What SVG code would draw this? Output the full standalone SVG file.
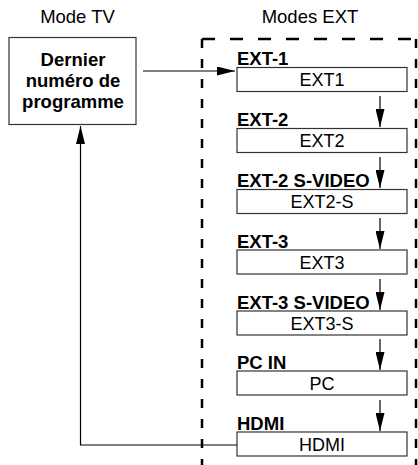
<svg xmlns="http://www.w3.org/2000/svg" width="418" height="465" viewBox="0 0 418 465">
<style>
text{font-family:"Liberation Sans",Arial,sans-serif;fill:#000}
.hdr{font-size:18.5px;text-anchor:middle}
.bold{font-size:18.5px;font-weight:bold}
.mid{text-anchor:middle}
.box{fill:#fff;stroke:#333;stroke-width:1.2}
.conn{stroke:#000;stroke-width:1.2;fill:none}
.dash{stroke:#000;stroke-width:2.5;fill:none}
.val{font-size:18px;text-anchor:middle}
</style>
<defs>
<marker id="ah" viewBox="0 0 18 9" refX="18" refY="4.5" markerWidth="18" markerHeight="9" markerUnits="userSpaceOnUse" orient="auto">
<path d="M0,0 L18,4.5 L0,9 Z" fill="#000"/>
</marker>
<marker id="ahs" viewBox="0 0 18 9" refX="18" refY="4.5" markerWidth="19" markerHeight="9" markerUnits="userSpaceOnUse" orient="auto">
<path d="M0,0 L18,4.5 L0,9 Z" fill="#000"/>
</marker>
</defs>
<text class="hdr" x="77.5" y="23">Mode TV</text>
<text class="hdr" x="310" y="23">Modes EXT</text>
<g id="frame">
<line class="dash" x1="202" y1="39" x2="416" y2="39" stroke-dasharray="13 15"/>
<line class="dash" x1="202" y1="39" x2="202" y2="465" stroke-dasharray="9 11"/>
<line class="dash" x1="416" y1="39" x2="416" y2="465" stroke-dasharray="9 11"/>
</g>
<g id="tv">
<rect class="box" x="9" y="37.5" width="127" height="87"/>
<text class="bold mid" x="73" y="66">Dernier</text>
<text class="bold mid" x="73" y="87">numéro de</text>
<text class="bold mid" x="73" y="108">programme</text>
</g>
<g id="ext1"><text class="bold" x="237" y="65">EXT-1</text><rect class="box" x="237" y="67.5" width="170" height="24"/><text class="val" x="322" y="86">EXT1</text></g>
<g id="ext2"><text class="bold" x="237" y="126">EXT-2</text><rect class="box" x="237" y="128.5" width="170" height="24"/><text class="val" x="322" y="147">EXT2</text></g>
<g id="ext2s"><text class="bold" x="237" y="187">EXT-2 S-VIDEO</text><rect class="box" x="237" y="189.5" width="170" height="24"/><text class="val" x="322" y="208">EXT2-S</text></g>
<g id="ext3"><text class="bold" x="237" y="248">EXT-3</text><rect class="box" x="237" y="250" width="170" height="24"/><text class="val" x="322" y="268.5">EXT3</text></g>
<g id="ext3s"><text class="bold" x="237" y="309">EXT-3 S-VIDEO</text><rect class="box" x="237" y="311" width="170" height="24"/><text class="val" x="322" y="329.5">EXT3-S</text></g>
<g id="pc"><text class="bold" x="237" y="369">PC IN</text><rect class="box" x="237" y="371" width="170" height="24"/><text class="val" x="322" y="389.5">PC</text></g>
<g id="hdmi"><text class="bold" x="237" y="430">HDMI</text><rect class="box" x="237" y="432" width="170" height="24"/><text class="val" x="322" y="450.5">HDMI</text></g>
<g id="connectors">
<line class="conn" x1="143" y1="71" x2="235" y2="71" marker-end="url(#ah)"/>
<line class="conn" x1="380" y1="96" x2="380" y2="127" marker-end="url(#ah)"/>
<line class="conn" x1="380" y1="157" x2="380" y2="188" marker-end="url(#ah)"/>
<line class="conn" x1="380" y1="218" x2="380" y2="249" marker-end="url(#ah)"/>
<line class="conn" x1="380" y1="279" x2="380" y2="310" marker-end="url(#ah)"/>
<line class="conn" x1="380" y1="339" x2="380" y2="370" marker-end="url(#ah)"/>
<line class="conn" x1="380" y1="400" x2="380" y2="431" marker-end="url(#ah)"/>
<polyline class="conn" points="237,445 80.5,445 80.5,126" stroke="#444" marker-end="url(#ahs)"/>
</g>
</svg>
